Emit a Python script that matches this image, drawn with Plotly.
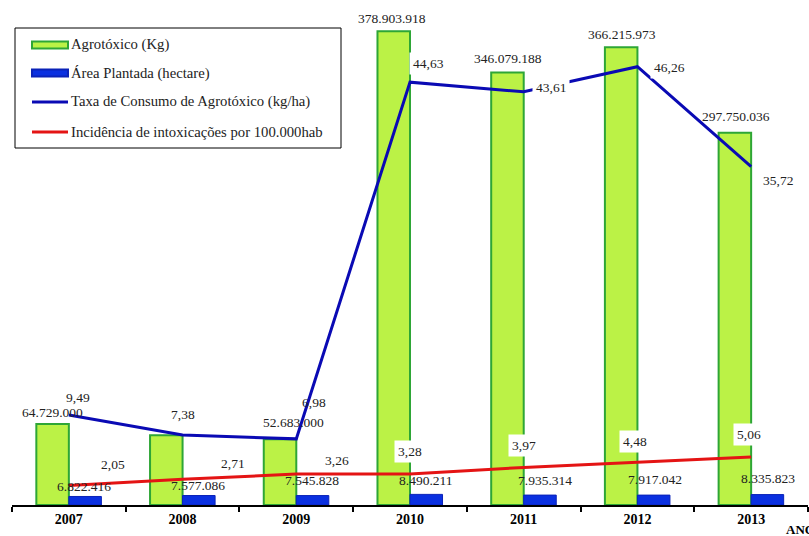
import plotly.graph_objects as go

# --- data -------------------------------------------------------------
years = ["2007", "2008", "2009", "2010", "2011", "2012", "2013"]
agrotoxico_kg = [64729000, 55900000, 52683000, 378903918, 346079188, 366215973, 297750036]
area_plantada_ha = [6822416, 7577086, 7545828, 8490211, 7935314, 7917042, 8335823]
taxa_consumo = [9.49, 7.38, 6.98, 44.63, 43.61, 46.26, 35.72]
incidencia = [2.05, 2.71, 3.26, 3.28, 3.97, 4.48, 5.06]

# years whose pesticide bar carries a value label
agro_labelled = ["2007", "2009", "2010", "2011", "2012", "2013"]

# --- styling / layout constants ---------------------------------------
W, H = 809, 536
ML, MR, MT, MB = 12, 1, 0, 31
PW, PH = W - ML - MR, H - MT - MB
SERIF = "Liberation Serif"
GREEN_FILL, GREEN_LINE = "#bbf246", "#2ea636"
BLUE_FILL, BLUE_LINE = "#0a30e0", "#0a22b8"
TAXA_COLOR = "#0a0ab4"
INC_COLOR = "#e41414"
TXT = "#222222"

# label offsets in pixels (xshift, yshift) from each mark
agro_off = {"2007": (-16, 12), "2009": (-3, 17), "2010": (-18, 13),
            "2011": (-16, 14), "2012": (-15, 13), "2013": (-15, 16)}
area_off = [(15, 10), (15, 10), (16, 15), (16, 14), (21, 15), (18, 16), (17, 16)]
taxa_off = [(9, 18), (0, 21), (18, 36), (18, 19), (27, 4), (32, -1), (27, -14)]
taxa_bg = [False, False, False, True, True, True, False]
inc_off = [(44, 21), (50, 16), (41, 14), (0, 22), (0, 22), (-2, 21), (-2, 23)]
inc_bg = [False, False, False, True, True, True, True]


def fmt_int(v):
    return f"{v:,}".replace(",", ".")


def fmt_dec(v):
    return f"{v:.2f}".replace(".", ",")


def px(x):
    return (x - ML) / PW


def py(y):
    return (H - MB - y) / PH


fig = go.Figure()

fig.add_trace(go.Bar(
    x=years, y=agrotoxico_kg, name="Agrotóxico (Kg)",
    marker=dict(color=GREEN_FILL, line=dict(color=GREEN_LINE, width=2)),
    showlegend=False, hoverinfo="skip",
))
fig.add_trace(go.Bar(
    x=years, y=area_plantada_ha, name="Área Plantada (hectare)",
    marker=dict(color=BLUE_FILL, line=dict(color=BLUE_LINE, width=1)),
    showlegend=False, hoverinfo="skip",
))
fig.add_trace(go.Scatter(
    x=years, y=taxa_consumo, yaxis="y2", mode="lines",
    name="Taxa de Consumo de Agrotóxico (kg/ha)",
    line=dict(color=TAXA_COLOR, width=3), showlegend=False, hoverinfo="skip",
))
fig.add_trace(go.Scatter(
    x=years, y=incidencia, yaxis="y2", mode="lines",
    name="Incidência de intoxicações por 100.000hab",
    line=dict(color=INC_COLOR, width=3), showlegend=False, hoverinfo="skip",
))

annotations = []
label_font = dict(family=SERIF, size=13.5, color=TXT)

# on a category axis annotations are placed by category index
for i, (yr, v) in enumerate(zip(years, agrotoxico_kg)):
    if yr in agro_labelled:
        dx, dy = agro_off[yr]
        annotations.append(dict(x=i, y=v, xref="x", yref="y", text=fmt_int(v),
                                showarrow=False, xshift=dx, yshift=dy, font=label_font))

for i, (v, (dx, dy)) in enumerate(zip(area_plantada_ha, area_off)):
    annotations.append(dict(x=i, y=v, xref="x", yref="y", text=fmt_int(v),
                            showarrow=False, xshift=dx, yshift=dy, font=label_font))

for i, (v, (dx, dy), bg) in enumerate(zip(taxa_consumo, taxa_off, taxa_bg)):
    annotations.append(dict(x=i, y=v, xref="x", yref="y2", text=fmt_dec(v),
                            showarrow=False, xshift=dx, yshift=dy, font=label_font,
                            bgcolor="white" if bg else "rgba(0,0,0,0)", borderpad=3))

for i, (v, (dx, dy), bg) in enumerate(zip(incidencia, inc_off, inc_bg)):
    annotations.append(dict(x=i, y=v, xref="x", yref="y2", text=fmt_dec(v),
                            showarrow=False, xshift=dx, yshift=dy, font=label_font,
                            bgcolor="white" if bg else "rgba(0,0,0,0)", borderpad=3))

# axis title at the bottom-right corner
annotations.append(dict(x=px(784), y=py(529), xref="paper", yref="paper", text="<b>ANO</b>",
                        showarrow=False, xanchor="left", yanchor="middle",
                        font=dict(family=SERIF, size=13, color="black")))

# --- hand-built legend box --------------------------------------------
shapes = [dict(type="rect", xref="paper", yref="paper",
               x0=px(15), x1=px(341), y0=py(148), y1=py(28),
               line=dict(color="black", width=1), fillcolor="white", layer="above")]
legend_rows = [
    ("Agrotóxico (Kg)", 45, "bar", GREEN_FILL, GREEN_LINE),
    ("Área Plantada (hectare)", 73, "bar", BLUE_FILL, BLUE_LINE),
    ("Taxa de Consumo de Agrotóxico (kg/ha)", 102, "line", TAXA_COLOR, None),
    ("Incidência de intoxicações por 100.000hab", 132, "line", INC_COLOR, None),
]
for text, yc, kind, c1, c2 in legend_rows:
    if kind == "bar":
        shapes.append(dict(type="rect", xref="paper", yref="paper",
                           x0=px(32), x1=px(68), y0=py(yc + 3.5), y1=py(yc - 3.5),
                           fillcolor=c1, line=dict(color=c2, width=2), layer="above"))
    else:
        shapes.append(dict(type="line", xref="paper", yref="paper",
                           x0=px(32), x1=px(68), y0=py(yc), y1=py(yc),
                           line=dict(color=c1, width=3), layer="above"))
    annotations.append(dict(x=px(69), y=py(yc), xref="paper", yref="paper", text=text,
                            showarrow=False, xanchor="left", yanchor="middle",
                            font=dict(family=SERIF, size=14.7, color=TXT)))

fig.update_layout(
    width=W, height=H,
    margin=dict(l=ML, r=MR, t=MT, b=MB, pad=0),
    paper_bgcolor="white", plot_bgcolor="white",
    barmode="group", bargap=0.428, bargroupgap=0,
    showlegend=False,
    xaxis=dict(type="category", range=[-0.5, len(years) - 0.5],
               showline=True, linecolor="black", linewidth=1.5,
               ticks="outside", ticklen=5, tickwidth=1.5, tickcolor="black",
               tickson="boundaries", showgrid=False, zeroline=False,
               tickfont=dict(family=SERIF, size=14, color="black", weight="bold"),
               fixedrange=True),
    yaxis=dict(range=[0, 404e6], visible=False, fixedrange=True),
    yaxis2=dict(range=[0, 53.3], overlaying="y", side="right", visible=False,
                fixedrange=True),
    shapes=shapes,
    annotations=annotations,
)

fig.write_html("out.html", config={"displayModeBar": False})
